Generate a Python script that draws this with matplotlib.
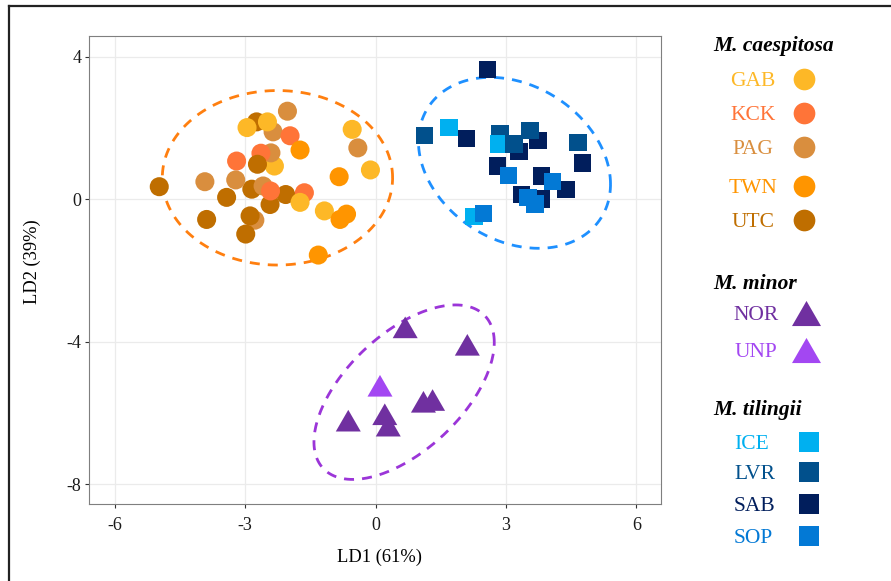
import numpy as np
import matplotlib
matplotlib.use('Agg')
import matplotlib.pyplot as plt

# LDA scores (LD1, LD2), drawn in this order
caes_pop = ['UTC', 'PAG', 'GAB', 'GAB', 'PAG', 'KCK', 'TWN', 'UTC', 'UTC', 'UTC',
            'PAG', 'KCK', 'GAB', 'PAG', 'KCK', 'UTC', 'KCK', 'GAB', 'PAG', 'UTC',
            'UTC', 'UTC', 'PAG', 'UTC', 'KCK', 'PAG', 'UTC', 'GAB', 'TWN', 'TWN',
            'TWN', 'TWN', 'GAB', 'PAG', 'GAB']
caes_x = [-2.74, -2.36, -2.96, -2.49, -2.03, -1.97, -1.74, -2.85, -2.07, -2.43,
          -2.59, -2.42, -2.33, -2.41, -2.64, -2.72, -1.64, -1.74, -2.78, -2.89,
          -2.99, -4.98, -3.93, -3.89, -3.20, -3.22, -3.43, -1.18, -0.84, -0.82,
          -0.67, -1.32, -0.54, -0.41, -0.12]
caes_y = [2.17, 1.89, 2.01, 2.17, 2.47, 1.78, 1.38, 0.28, 0.13, -0.15,
          0.37, 0.23, 0.93, 1.30, 1.29, 0.98, 0.18, -0.09, -0.59, -0.47,
          -0.98, 0.35, 0.49, -0.57, 1.07, 0.54, 0.05, -0.33, 0.63, -0.57,
          -0.42, -1.57, 1.96, 1.44, 0.82]

minor_pop = ['NOR', 'NOR', 'NOR', 'NOR', 'NOR', 'NOR', 'NOR', 'UNP']
minor_x = [0.68, 2.11, 1.10, 1.31, -0.63, 0.21, 0.29, 0.10]
minor_y = [-3.60, -4.09, -5.69, -5.64, -6.22, -6.04, -6.36, -5.24]

til_pop = ['SAB', 'SAB', 'SAB', 'SAB', 'SAB', 'SAB', 'SAB', 'SAB', 'SAB', 'SAB',
           'LVR', 'LVR', 'ICE', 'LVR', 'LVR', 'LVR', 'ICE', 'ICE',
           'SOP', 'SOP', 'SOP', 'SOP', 'SOP']
til_x = [2.57, 2.09, 3.30, 3.74, 4.76, 2.80, 3.82, 4.38, 3.36, 3.82,
         1.13, 2.86, 2.84, 3.18, 3.55, 4.66, 1.69, 2.26,
         3.05, 4.07, 3.51, 3.67, 2.48]
til_y = [3.64, 1.71, 1.33, 1.64, 1.02, 0.93, 0.65, 0.28, 0.14, 0.00,
         1.78, 1.85, 1.55, 1.55, 1.92, 1.60, 2.01, -0.49,
         0.66, 0.49, 0.04, -0.14, -0.40]

# ellipse per species: centre, half extents, correlation
ell_cx = [-2.26, 0.655, 3.195]
ell_cy = [0.60, -5.42, 1.02]
ell_hw = [2.65, 2.075, 2.21]
ell_hh = [2.45, 2.45, 2.40]
ell_rho = [0.0, 0.57, -0.25]
ell_col = ['#FF7F0F', '#9B35D8', '#1E90FF']

caes_names = ['GAB', 'KCK', 'PAG', 'TWN', 'UTC']
minor_names = ['NOR', 'UNP']
til_names = ['ICE', 'LVR', 'SAB', 'SOP']
pop_col = {'GAB': '#FDB827', 'KCK': '#FF7438', 'PAG': '#D98E3E', 'TWN': '#FF9500',
           'UTC': '#BF6E00', 'NOR': '#7030A0', 'UNP': '#A347F2',
           'ICE': '#00B0F0', 'LVR': '#01508C', 'SAB': '#011E5C', 'SOP': '#0379D5'}

plt.rcParams['font.family'] = 'Liberation Serif'
plt.rcParams['axes.unicode_minus'] = False

tri = [(0, 0.866), (-1, -0.866), (1, -0.866)]

fig = plt.figure(figsize=(8.91, 5.81), dpi=100)
ax = fig.add_axes([89.3 / 891, 1 - 504 / 581, (660.7 - 89.3) / 891, (504 - 35.7) / 581])

t = np.linspace(0, 2 * np.pi, 300)
for cx, cy, hw, hh, r, c in zip(ell_cx, ell_cy, ell_hw, ell_hh, ell_rho, ell_col):
    cov = np.array([[hw ** 2, r * hw * hh], [r * hw * hh, hh ** 2]])
    L = np.linalg.cholesky(cov)
    pts = L @ np.vstack([np.cos(t), np.sin(t)])
    ax.plot(pts[0] + cx, pts[1] + cy, color=c, lw=2.0, ls=(0, (3.6, 2.9)), zorder=2)

ax.scatter(caes_x, caes_y, s=188, marker='o', c=[pop_col[p] for p in caes_pop],
           linewidths=0, zorder=3)
ax.scatter(minor_x, minor_y, s=324, marker=tri, c=[pop_col[p] for p in minor_pop],
           linewidths=0, zorder=3)
ax.scatter(til_x, til_y, s=156, marker='s', c=[pop_col[p] for p in til_pop],
           linewidths=0, zorder=3)

ax.set_xlim(-6.59, 6.56)
ax.set_ylim(-8.56, 4.59)
ax.set_xticks([-6, -3, 0, 3, 6])
ax.set_yticks([-8, -4, 0, 4])
ax.grid(True, color='#EBEBEB', lw=0.9)
ax.set_axisbelow(True)
for s in ax.spines.values():
    s.set_color('#7F7F7F')
    s.set_linewidth(0.8)
ax.tick_params(length=3, width=0.8, color='#333333', labelsize=13, labelcolor='#1A1A1A')
ax.tick_params(axis='x', pad=6.5)
ax.tick_params(axis='y', pad=2.6)
ax.set_xlabel('LD1 (61%)', fontsize=13.3, va='center')
ax.set_ylabel('LD2 (39%)', fontsize=13.3, va='center')
ax.xaxis.set_label_coords((379 - 89.3) / 571.4, (504 - 557) / (504 - 35.7))
ax.yaxis.set_label_coords((32 - 89.3) / 571.4, (504 - 262) / (504 - 35.7))

# legend + outer frame, drawn in pixel coordinates
leg = fig.add_axes([0, 0, 1, 1], zorder=5)
leg.set_xlim(0, 891)
leg.set_ylim(581, 0)
leg.axis('off')
leg.plot([9.3, 895], [5.7, 5.7], color='#222222', lw=1.6)
leg.plot([9.3, 9.3], [5.7, 590], color='#222222', lw=1.6)

groups = [
    ('M. caespitosa', 51, caes_names, [79, 112.7, 146.7, 185.7, 220], 'o', 244, 804, 'center', 753),
    ('M. minor', 289, minor_names, [313.3, 350], tri, 436, 806, 'center', 756),
    ('M. tilingii', 415, til_names, [441.7, 472.3, 504, 535.7], 's', 207, 808.5, 'left', 734),
]
for title, ty, names, rows, mk, ms, mx, ha, lx in groups:
    leg.text(713, ty, title, fontsize=15.5, fontweight='bold', fontstyle='italic',
             va='baseline', ha='left', color='black')
    for name, ry in zip(names, rows):
        leg.text(lx, ry + 7, name, fontsize=15.5, color=pop_col[name], ha=ha, va='baseline')
        leg.scatter([mx], [ry], s=ms, marker=mk, color=pop_col[name], linewidths=0)

fig.savefig('out.png', dpi=100)
